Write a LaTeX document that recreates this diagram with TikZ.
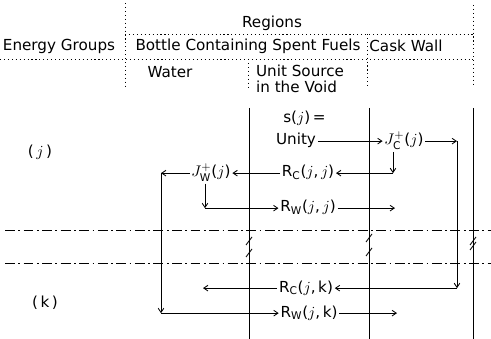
\documentclass[tikz,border=0pt]{standalone}
\usepackage{fontspec}
\setmainfont{DejaVu Sans}
\usepackage{tikz}
\usetikzlibrary{arrows.meta,positioning}

\begin{document}
\begin{tikzpicture}[x=0.025cm, y=-0.025cm, line width=0.6pt, >={Straight Barb[length=3pt,width=4pt]},
    font=\fontsize{10.8}{12}\selectfont,
    sep/.style={dash pattern=on 0.8pt off 2pt},
    cut/.style={dash pattern=on 7pt off 2.5pt on 1.2pt off 2.5pt},
    flow/.style={anchor=base, inner sep=1pt}]
        \useasboundingbox (0,0) rectangle (491,339);
        % table head
        \draw[sep] (125,3) -- (125,88);
        \draw[sep] (473,5) -- (473,86);
        \draw[sep] (125,34) -- (473,34);
        \draw[sep] (0,59) -- (473,59);
        \draw[sep] (367,34) -- (367,86);
        \draw[sep] (248,59) -- (248,89);
        \node (regions) at (272,23) {Regions};
        \node (groups) at (59,46) {Energy Groups};
        \node (bottle) at (248,46) {Bottle Containing Spent Fuels};
        \node (cask) at (406,46) {Cask Wall};
        \node (water) at (170,72) {Water};
        \node[align=left, anchor=west] (usrc) at (251,79) {Unit Source\\[-1pt]in the Void};
        % region walls and group cuts
        \draw (249,108) -- (249,339);
        \draw (369,108) -- (369,339);
        \draw (473,108) -- (473,339);
        \draw[cut] (5,230) -- (491,230);
        \draw[cut] (5,263) -- (491,263);
        \foreach \x/\y in {249/241, 249/253, 369/238, 369/252, 473/241, 473/246}
            \draw ({\x-3},{\y+4}) -- ({\x+3},{\y-4});
        % groups
        \node[flow] (rowj) at (40,157) {(\,$j$\,)};
        \node[flow] (rowk) at (45,307) {(\,k\,)};
        \node[flow] (unity) at (296,145) {Unity};
        \node[flow, above=3pt of unity.north, xshift=6] (src) {s($j$)\,=};
        \node[flow] (jc) at (404,145) {$J^{+}_{\mathrm{C}}$($j$)};
        \node[flow] (rcj) at (308,177) {R$_{\mathrm{C}}$($j$,\,$j$)};
        \node[flow] (jw) at (211,177) {$J^{+}_{\mathrm{W}}$($j$)};
        \node[flow] (rwj) at (308,212) {R$_{\mathrm{W}}$($j$,\,$j$)};
        \node[flow] (rck) at (306,292) {R$_{\mathrm{C}}$($j$,\,k)};
        \node[flow] (rwk) at (309,317) {R$_{\mathrm{W}}$($j$,\,k)};
        \coordinate (c1) at (457,0 |- jc.mid);
        \coordinate (c2) at (457,0 |- rck.mid);
        \coordinate (c3) at (393,0 |- rcj.mid);
        \coordinate (c4) at (161,0 |- jw.mid);
        \coordinate (c5) at (161,0 |- rwk.mid);
        \coordinate (c6) at (205,0 |- rwj.mid);
        \coordinate (e1) at (395,0 |- rwj.mid);
        \coordinate (e2) at (203,0 |- rck.mid);
        \coordinate (e3) at (397,0 |- rwk.mid);
        \draw[->] (unity.mid east) -- (jc.mid west);
        \draw[->] (jc.mid east) -- (c1);
        \draw[->] (c1) -- (c2);
        \draw[->] (c2) -- (rck.mid east);
        \draw[->] (rck.mid west) -- (e2);
        \draw[->] (jc.south -| c3) -- (c3);
        \draw[->] (c3) -- (rcj.mid east);
        \draw[->] (rcj.mid west) -- (jw.mid east);
        \draw[->] (jw.mid west) -- (c4);
        \draw[->] (c4) -- (c5);
        \draw[->] (c5) -- (rwk.mid west);
        \draw[->] (jw.south -| c6) -- (c6);
        \draw[->] (c6) -- (rwj.mid west);
        \draw[->] (rwj.mid east) -- (e1);
        \draw[->] (rwk.mid east) -- (e3);
\end{tikzpicture}
\end{document}
